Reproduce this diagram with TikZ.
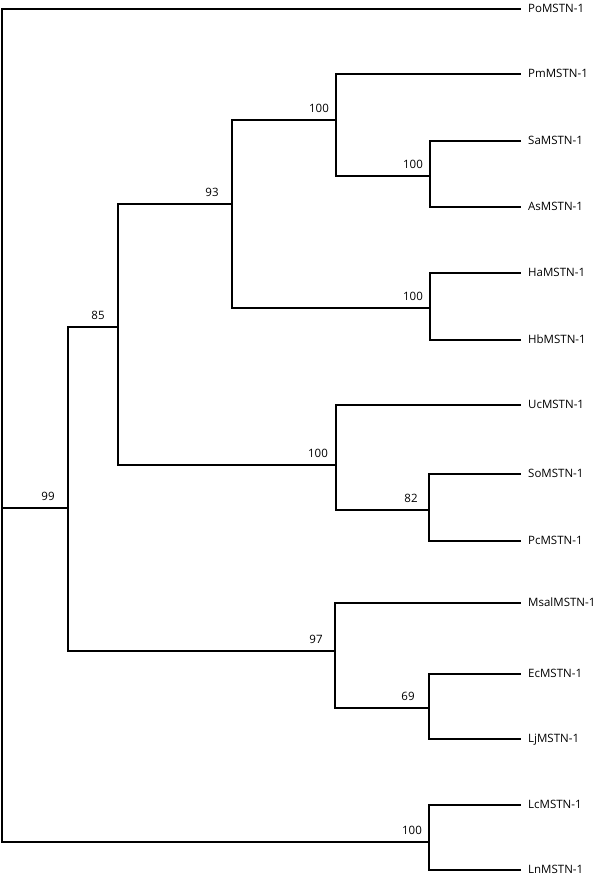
\documentclass[tikz,border=0pt]{standalone}
\usepackage{fontspec}
\setmainfont{Open Sans}
\usetikzlibrary{positioning}

\begin{document}
\begin{tikzpicture}[x=1pt,y=-1pt]
\tikzset{
  leafnode/.style={anchor=west,inner xsep=7pt,inner ysep=0pt,text height=1.45ex,text depth=0pt,font=\fontsize{11.5}{13}\selectfont},
  bootlabel/.style={inner sep=0pt,font=\fontsize{11.5}{13}\selectfont},
  branch/.style={line width=2.2pt,line join=miter}
}
\useasboundingbox (0,0) rectangle (600,879);
% leaves
\node[leafnode] (n_Po) at (521.00,9.00) {PoMSTN-1};
\node[leafnode] (n_Pm) at (521.00,74.00) {PmMSTN-1};
\node[leafnode] (n_Sa) at (521.00,141.00) {SaMSTN-1};
\node[leafnode] (n_As) at (521.00,207.00) {AsMSTN-1};
\node[leafnode] (n_Ha) at (521.00,273.00) {HaMSTN-1};
\node[leafnode] (n_Hb) at (521.00,340.00) {HbMSTN-1};
\node[leafnode] (n_Uc) at (521.00,405.00) {UcMSTN-1};
\node[leafnode] (n_So) at (521.00,474.00) {SoMSTN-1};
\node[leafnode] (n_Pc) at (521.00,541.00) {PcMSTN-1};
\node[leafnode] (n_Msal) at (521.00,603.00) {MsalMSTN-1};
\node[leafnode] (n_Ec) at (521.00,674.00) {EcMSTN-1};
\node[leafnode] (n_Lj) at (521.00,739.00) {LjMSTN-1};
\node[leafnode] (n_Lc) at (521.00,805.00) {LcMSTN-1};
\node[leafnode] (n_Ln) at (521.00,870.00) {LnMSTN-1};
% inner nodes
\coordinate (n_root) at (2.00,508.00);
\coordinate (n_99) at (68.00,508.00);
\coordinate (n_85) at (118.00,327.00);
\coordinate (n_93) at (232.00,204.00);
\coordinate (n_Pm100) at (336.00,120.00);
\coordinate (n_Sa100) at (430.00,176.00);
\coordinate (n_Ha100) at (430.00,308.00);
\coordinate (n_Uc100) at (336.00,465.00);
\coordinate (n_82) at (429.00,510.00);
\coordinate (n_97) at (335.00,651.00);
\coordinate (n_69) at (429.00,708.00);
\coordinate (n_Lc100) at (429.00,842.00);
% support values
\node[bootlabel] (b_99) at ([shift={(-20pt,12pt)}]n_99) {99};
\node[bootlabel] (b_85) at ([shift={(-20pt,12pt)}]n_85) {85};
\node[bootlabel] (b_93) at ([shift={(-20pt,12pt)}]n_93) {93};
\node[bootlabel] (b_Pm100) at ([shift={(-17pt,12pt)}]n_Pm100) {100};
\node[bootlabel] (b_Sa100) at ([shift={(-17pt,12pt)}]n_Sa100) {100};
\node[bootlabel] (b_Ha100) at ([shift={(-17pt,12pt)}]n_Ha100) {100};
\node[bootlabel] (b_Uc100) at ([shift={(-18pt,12pt)}]n_Uc100) {100};
\node[bootlabel] (b_82) at ([shift={(-18pt,12pt)}]n_82) {82};
\node[bootlabel] (b_97) at ([shift={(-19pt,12pt)}]n_97) {97};
\node[bootlabel] (b_69) at ([shift={(-21pt,12pt)}]n_69) {69};
\node[bootlabel] (b_Lc100) at ([shift={(-17pt,12pt)}]n_Lc100) {100};
% branches
\draw[branch] (n_root) |- (n_Po.west);
\draw[branch] (n_root) -- (n_99);
\draw[branch] (n_root) |- (n_Lc100);
\draw[branch] (n_99) |- (n_85);
\draw[branch] (n_99) |- (n_97);
\draw[branch] (n_85) |- (n_93);
\draw[branch] (n_85) |- (n_Uc100);
\draw[branch] (n_93) |- (n_Pm100);
\draw[branch] (n_93) |- (n_Ha100);
\draw[branch] (n_Pm100) |- (n_Pm.west);
\draw[branch] (n_Pm100) |- (n_Sa100);
\draw[branch] (n_Sa100) |- (n_Sa.west);
\draw[branch] (n_Sa100) |- (n_As.west);
\draw[branch] (n_Ha100) |- (n_Ha.west);
\draw[branch] (n_Ha100) |- (n_Hb.west);
\draw[branch] (n_Uc100) |- (n_Uc.west);
\draw[branch] (n_Uc100) |- (n_82);
\draw[branch] (n_82) |- (n_So.west);
\draw[branch] (n_82) |- (n_Pc.west);
\draw[branch] (n_97) |- (n_Msal.west);
\draw[branch] (n_97) |- (n_69);
\draw[branch] (n_69) |- (n_Ec.west);
\draw[branch] (n_69) |- (n_Lj.west);
\draw[branch] (n_Lc100) |- (n_Lc.west);
\draw[branch] (n_Lc100) |- (n_Ln.west);
\end{tikzpicture}
\end{document}
